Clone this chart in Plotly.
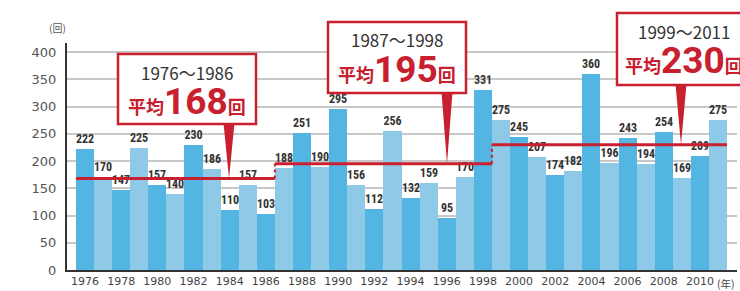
import plotly.graph_objects as go

years = list(range(1976, 2012))
counts = [222, 170, 147, 225, 157, 140, 230, 186, 110, 157, 103,
          188, 251, 190, 295, 156, 112, 256, 132, 159, 95, 170, 331,
          275, 245, 207, 174, 182, 360, 196, 243, 194, 254, 169, 209, 275]
period_labels = ["1976～1986", "1987～1998", "1999～2011"]
period_start = [1976, 1987, 1999]
period_end = [1986, 1998, 2011]
period_avg = [168, 195, 230]
x_tick_years = list(range(1976, 2011, 2))
y_ticks = list(range(0, 401, 50))

DARK = "#53b5e1"
LIGHT = "#8fc9e8"
RED = "#c8202f"
W, H = 740, 291
L, R, T, B = 67, 3, 43, 21
PW, PH = W - L - R, H - T - B
YMAX = 417
XMIN, XMAX = 1975.005, 2012.05

def px(x):
    return (x - L) / PW

def py(y):
    return (H - B - y) / PH

colors = [DARK if y % 2 == 0 else LIGHT for y in years]
NARROW = "Liberation Sans Narrow, Roboto Condensed, DejaVu Sans Condensed, Roboto, sans-serif"
JP = "Noto Sans CJK JP, sans-serif"

fig = go.Figure(go.Bar(
    x=years, y=counts, width=1.0,
    marker=dict(color=colors, line=dict(width=0)),
    text=[str(c) for c in counts], textposition="outside",
    textfont=dict(family=NARROW, size=12, color="#333333", weight="bold"),
    constraintext="none", cliponaxis=False, hoverinfo="skip",
))

shapes = []
for i in range(len(period_avg)):
    shapes.append(dict(type="line", xref="x", yref="y",
                       x0=period_start[i] - 0.5, x1=period_end[i] + 0.5,
                       y0=period_avg[i], y1=period_avg[i],
                       line=dict(color=RED, width=3)))
    if i + 1 < len(period_avg):
        shapes.append(dict(type="line", xref="x", yref="y",
                           x0=period_end[i] + 0.5, x1=period_end[i] + 0.5,
                           y0=period_avg[i], y1=period_avg[i + 1],
                           line=dict(color=RED, width=2, dash="dot")))

boxes = [(118, 54, 256, 124, 229), (328, 22, 466, 93, 447), (617, 13, 751, 85, 681)]
annotations = []
for i, (x0, y0, x1, y1, tipx) in enumerate(boxes):
    tip_py = (H - B) - period_avg[i] / YMAX * PH
    shapes.append(dict(type="path", xref="paper", yref="paper",
                       path=f"M {px(tipx-5.5)},{py(y1-1)} L {px(tipx+5.5)},{py(y1-1)} L {px(tipx)},{py(tip_py)} Z",
                       fillcolor=RED, line=dict(width=0)))
    shapes.append(dict(type="rect", xref="paper", yref="paper",
                       x0=px(x0), x1=px(x1), y0=py(y1), y1=py(y0),
                       fillcolor="white", line=dict(color=RED, width=2.5)))
    cx = (x0 + x1) / 2 if i < 2 else 684
    annotations.append(dict(xref="paper", yref="paper", x=px(cx), y=py(y0 + 18),
                            xanchor="center", yanchor="middle", showarrow=False,
                            text=period_labels[i],
                            font=dict(family=JP, size=17, color="#333333")))
    annotations.append(dict(xref="paper", yref="paper", x=px(cx), y=py(y0 + 47),
                            xanchor="center", yanchor="middle", showarrow=False,
                            text=("平均<span style='font-family:Roboto;font-size:37px;font-weight:bold'>"
                                  f"{period_avg[i]}</span>回"),
                            font=dict(family=JP, size=18, color=RED, weight="bold")))

annotations.append(dict(xref="paper", yref="paper", x=px(57), y=py(28), xanchor="center",
                        yanchor="middle", showarrow=False, text="(回)",
                        font=dict(family=JP, size=10, color="#555555")))
annotations.append(dict(xref="paper", yref="paper", x=px(726), y=py(283), xanchor="center",
                        yanchor="middle", showarrow=False, text="(年)",
                        font=dict(family=JP, size=10.5, color="#444444")))

fig.update_layout(
    width=W, height=H, margin=dict(l=L, r=R, t=T, b=B, autoexpand=False),
    paper_bgcolor="white", plot_bgcolor="white",
    bargap=0, showlegend=False,
    shapes=shapes, annotations=annotations,
    xaxis=dict(range=[XMIN, XMAX], tickvals=x_tick_years, ticktext=[str(y) for y in x_tick_years],
               showgrid=False, showline=True, linecolor="#333333", linewidth=2,
               ticks="", tickfont=dict(family="DejaVu Sans, sans-serif", size=11, color="#444444"),
               zeroline=False, fixedrange=True, automargin=False),
    yaxis=dict(range=[0, YMAX], tickvals=y_ticks,
               showgrid=True, gridcolor="#c8c8c8", gridwidth=1.5,
               showline=True, linecolor="#333333", linewidth=2,
               ticks="outside", ticklen=6, tickcolor="rgba(0,0,0,0)",
               tickfont=dict(family="DejaVu Sans, sans-serif", size=13, color="#555555"),
               zeroline=False, fixedrange=True, automargin=False),
)

fig.write_html("out.html", config={"displayModeBar": False},
               post_script="document.body.style.margin='0';document.body.style.overflow='hidden';")
